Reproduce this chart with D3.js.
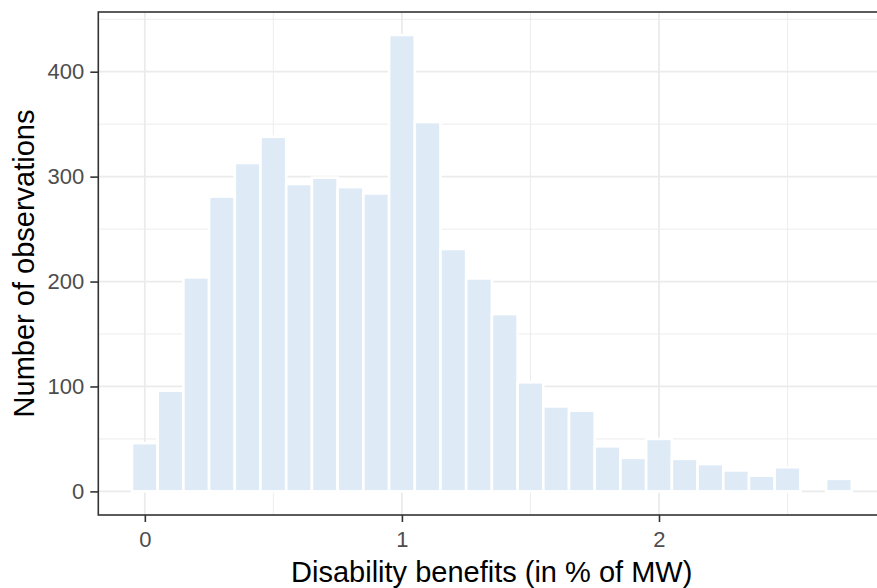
<!DOCTYPE html>
<html>
<head>
<meta charset="utf-8">
<script src="https://cdn.jsdelivr.net/npm/d3@7"></script>
<style>
  body { margin: 0; background: #fff; }
  svg { display: block; font-family: "Liberation Sans", Arial, sans-serif; }
</style>
</head>
<body>
<svg id="chart"></svg>
<script>
// histogram bins (centre, in % of MW) and counts
var binCentres = [0, 0.1, 0.2, 0.3, 0.4, 0.5, 0.6, 0.7, 0.8, 0.9, 1.0, 1.1, 1.2, 1.3,
  1.4, 1.5, 1.6, 1.7, 1.8, 1.9, 2.0, 2.1, 2.2, 2.3, 2.4, 2.5, 2.6, 2.7];
var counts = [46, 96, 204, 281, 313, 338, 293, 299, 290, 284, 435, 352, 231, 203,
  169, 104, 81, 77, 43, 32, 50, 31, 26, 20, 15, 23, 0, 12];
var binWidth = 0.1;
var xTicks = [0, 1, 2];
var xMinor = [0.5, 1.5, 2.5];
var yTicks = [0, 100, 200, 300, 400];
var yMinor = [50, 150, 250, 350, 450];

var W = 877, H = 588;
// panel edges (right edge runs past the picture, as in the original)
var pLeft = 98.3, pTop = 12, pBottom = 515, pRight = 887.8;

var svg = d3.select("#chart").attr("width", W).attr("height", H);

var x = d3.scaleLinear().domain([-0.181, 2.89]).range([pLeft, pRight]);
var y = d3.scaleLinear().domain([-22.5, 456.9]).range([pBottom, pTop]);

var data = binCentres.map(function(c, i) { return { c: c, n: counts[i] }; });

var panel = svg.append("g");
panel.append("rect")
  .attr("x", pLeft).attr("y", pTop)
  .attr("width", pRight - pLeft).attr("height", pBottom - pTop)
  .attr("fill", "#fff");

// grid lines
panel.selectAll(".ymin").data(yMinor).join("line")
  .attr("x1", pLeft).attr("x2", pRight)
  .attr("y1", function(d) { return y(d); }).attr("y2", function(d) { return y(d); })
  .attr("stroke", "#ebebeb").attr("stroke-width", 0.9);
panel.selectAll(".xmin").data(xMinor).join("line")
  .attr("y1", pTop).attr("y2", pBottom)
  .attr("x1", function(d) { return x(d); }).attr("x2", function(d) { return x(d); })
  .attr("stroke", "#ebebeb").attr("stroke-width", 0.9);
panel.selectAll(".ymaj").data(yTicks).join("line")
  .attr("x1", pLeft).attr("x2", pRight)
  .attr("y1", function(d) { return y(d); }).attr("y2", function(d) { return y(d); })
  .attr("stroke", "#ebebeb").attr("stroke-width", 1.8);
panel.selectAll(".xmaj").data(xTicks).join("line")
  .attr("y1", pTop).attr("y2", pBottom)
  .attr("x1", function(d) { return x(d); }).attr("x2", function(d) { return x(d); })
  .attr("stroke", "#ebebeb").attr("stroke-width", 1.8);

// bars
panel.selectAll(".bar").data(data.filter(function(d) { return d.n > 0; })).join("rect")
  .attr("class", "bar")
  .attr("x", function(d) { return x(d.c - binWidth / 2); })
  .attr("width", function(d) { return x(d.c + binWidth / 2) - x(d.c - binWidth / 2); })
  .attr("y", function(d) { return y(d.n); })
  .attr("height", function(d) { return y(0) - y(d.n); })
  .attr("fill", "#deebf7")
  .attr("stroke", "#fff").attr("stroke-width", 2.6);

// panel border
panel.append("rect")
  .attr("x", pLeft).attr("y", pTop)
  .attr("width", pRight - pLeft).attr("height", pBottom - pTop)
  .attr("fill", "none").attr("stroke", "#333").attr("stroke-width", 1.6);

// axes
var xAxis = svg.append("g").attr("transform", "translate(0," + pBottom + ")")
  .call(d3.axisBottom(x).tickValues(xTicks).tickFormat(d3.format("d"))
    .tickSize(7).tickPadding(9));
var yAxis = svg.append("g").attr("transform", "translate(" + pLeft + ",0)")
  .call(d3.axisLeft(y).tickValues(yTicks).tickSize(8).tickPadding(6));

[xAxis, yAxis].forEach(function(g) {
  g.select(".domain").remove();
  g.selectAll(".tick line").attr("stroke", "#333").attr("stroke-width", 1.6);
  g.selectAll(".tick text").attr("fill", "#4d4d4d")
    .style("font-size", "22px").style("font-family", "Liberation Sans, Arial, sans-serif");
});

// axis titles
svg.append("text")
  .attr("x", 491.7).attr("y", 582)
  .attr("text-anchor", "middle")
  .style("font-size", "29px")
  .text("Disability benefits (in % of MW)");

svg.append("text")
  .attr("transform", "translate(33.5," + ((pTop + pBottom) / 2) + ") rotate(-90)")
  .attr("text-anchor", "middle")
  .style("font-size", "29px")
  .text("Number of observations");
</script>
</body>
</html>
